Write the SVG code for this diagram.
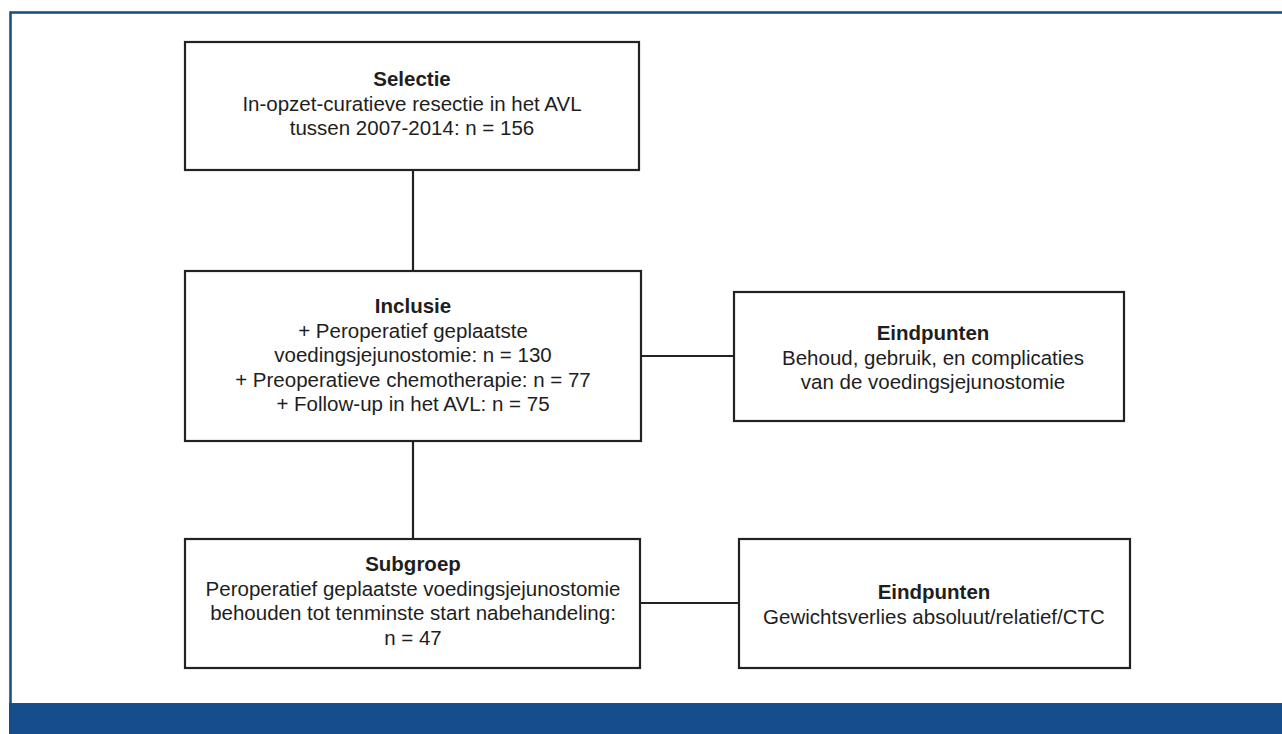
<svg xmlns="http://www.w3.org/2000/svg" width="1282" height="734" viewBox="0 0 1282 734">
<style>
.box{fill:#fff;stroke:#222;stroke-width:2.2}
.t{font-family:"Liberation Sans",Arial,sans-serif;font-size:20.5px;fill:#1e1e1e;text-anchor:middle}
.b{font-weight:bold}
.c{stroke:#222;stroke-width:2.2;fill:none}
</style>
<rect x="0" y="0" width="1282" height="734" fill="#fff"/>
<g id="frame">
<rect x="10.5" y="12.5" width="1290" height="700" fill="none" stroke="#1b4f8c" stroke-width="2.6"/>
<rect x="9" y="703" width="1273" height="31" fill="#154e8b"/>
</g>
<g id="connectors">
<line class="c" x1="413" y1="170" x2="413" y2="271"/>
<line class="c" x1="413" y1="441" x2="413" y2="539"/>
<line class="c" x1="641" y1="356" x2="734" y2="356"/>
<line class="c" x1="640" y1="603" x2="739" y2="603"/>
</g>
<g id="selectie">
<rect class="box" x="185" y="42" width="454" height="128"/>
<text class="t b" x="412" y="86">Selectie</text>
<text class="t" x="412" y="111">In-opzet-curatieve resectie in het AVL</text>
<text class="t" x="412" y="135">tussen 2007-2014: n = 156</text>
</g>
<g id="inclusie">
<rect class="box" x="185" y="271" width="456" height="170"/>
<text class="t b" x="413" y="313">Inclusie</text>
<text class="t" x="413" y="338">+ Peroperatief geplaatste</text>
<text class="t" x="413" y="362">voedingsjejunostomie: n = 130</text>
<text class="t" x="413" y="387">+ Preoperatieve chemotherapie: n = 77</text>
<text class="t" x="413" y="411">+ Follow-up in het AVL: n = 75</text>
</g>
<g id="eindpunten1">
<rect class="box" x="734" y="292" width="390" height="129"/>
<text class="t b" x="933" y="340">Eindpunten</text>
<text class="t" x="933" y="365">Behoud, gebruik, en complicaties</text>
<text class="t" x="933" y="389">van de voedingsjejunostomie</text>
</g>
<g id="subgroep">
<rect class="box" x="185" y="539" width="455" height="129"/>
<text class="t b" x="413" y="571">Subgroep</text>
<text class="t" x="413" y="596">Peroperatief geplaatste voedingsjejunostomie</text>
<text class="t" x="413" y="620">behouden tot tenminste start nabehandeling:</text>
<text class="t" x="413" y="645">n = 47</text>
</g>
<g id="eindpunten2">
<rect class="box" x="739" y="539" width="391" height="129"/>
<text class="t b" x="934" y="599">Eindpunten</text>
<text class="t" x="934" y="624">Gewichtsverlies absoluut/relatief/CTC</text>
</g>
</svg>
